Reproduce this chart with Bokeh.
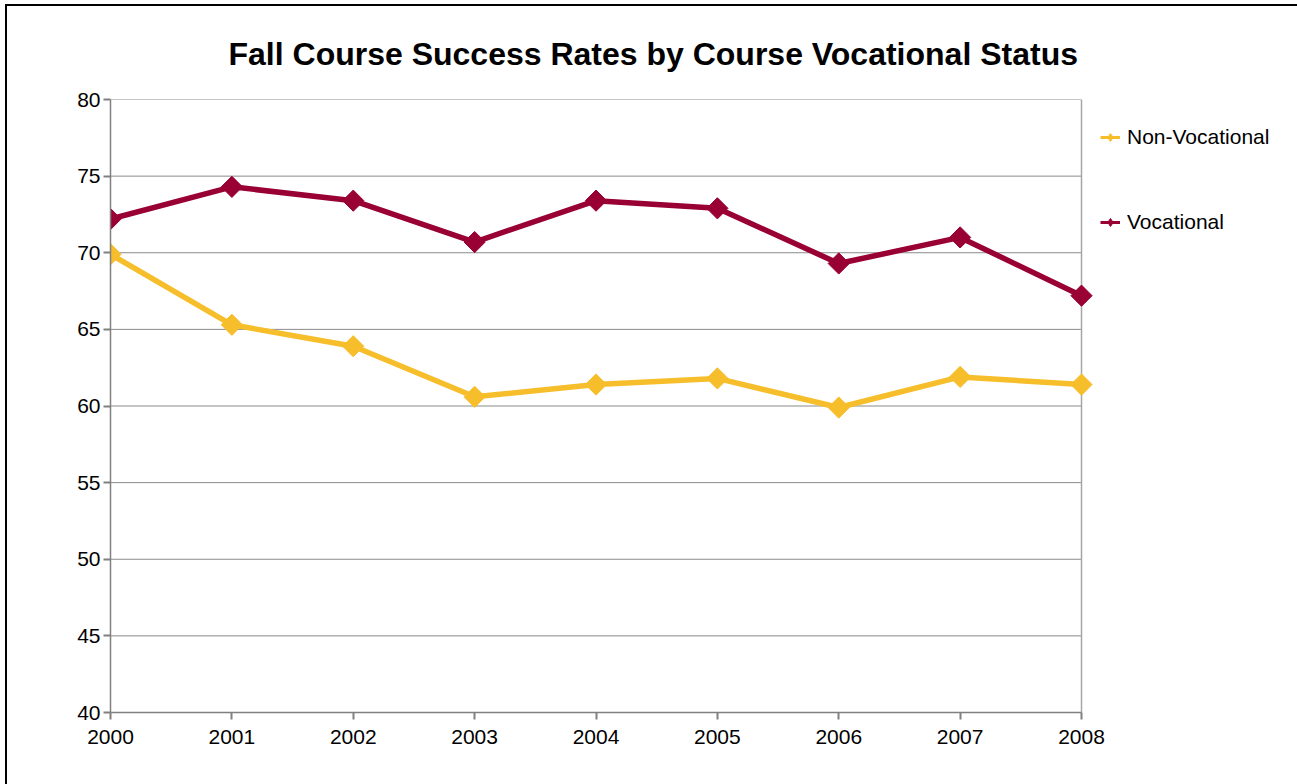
import math
from bokeh.plotting import figure
from bokeh.models import Legend, LegendItem, FixedTicker, ColumnDataSource
from bokeh.embed import file_html
from bokeh.resources import INLINE

years = [2000, 2001, 2002, 2003, 2004, 2005, 2006, 2007, 2008]
non_vocational = [69.9, 65.3, 63.9, 60.6, 61.4, 61.8, 59.9, 61.9, 61.4]
vocational = [72.2, 74.3, 73.4, 70.7, 73.4, 72.9, 69.3, 71.0, 67.2]
y_ticks = [40, 45, 50, 55, 60, 65, 70, 75, 80]

NONVOC_COLOR = "#F7BE2B"
VOC_COLOR = "#990033"
FONT = "Liberation Sans"

# plot area spans 971 px for the 8 years; extend the range over the legend area (216 px)
px_per_year = 971 / (years[-1] - years[0])
x_end = years[-1] + 216 / px_per_year

p = figure(width=1290, height=778, output_backend="svg", toolbar_location=None,
           x_range=(years[0], x_end), y_range=(y_ticks[0], y_ticks[-1]),
           min_border_left=103, min_border_right=0, min_border_top=93, min_border_bottom=72,
           title="Fall Course Success Rates by Course Vocational Status")
p.margin = (6, 0, 0, 7)
p.styles = {"outline": "2px solid black"}

p.title.text_font = FONT
p.title.text_font_size = "32px"
p.title.text_font_style = "bold"
p.title.text_color = "black"
p.title.align = "left"
p.title.offset = 118
p.title.standoff = 55

p.outline_line_color = None
p.background_fill_color = "white"
p.border_fill_color = "white"

p.xgrid.grid_line_color = None
p.ygrid.grid_line_color = None

# horizontal gridlines limited to the plot area, and its right border
p.segment(x0=[years[0]] * len(y_ticks), x1=[years[-1]] * len(y_ticks), y0=y_ticks, y1=y_ticks,
          line_color="#8a8a8a", line_width=1)
p.segment(x0=[years[-1]], x1=[years[-1]], y0=[y_ticks[0]], y1=[y_ticks[-1]],
          line_color="#a6a6a6", line_width=1.5)

for ax in (p.xaxis[0], p.yaxis[0]):
    ax.axis_line_color = "#808080"
    ax.axis_line_width = 1.5
    ax.major_tick_line_color = "#808080"
    ax.major_tick_line_width = 2
    ax.major_tick_out = 7
    ax.major_tick_in = 0
    ax.minor_tick_line_color = None
    ax.major_label_text_font = FONT
    ax.major_label_text_font_size = "21px"
    ax.major_label_text_color = "black"

p.xaxis.bounds = (years[0], years[-1])
p.xaxis.ticker = FixedTicker(ticks=years)
p.yaxis.ticker = FixedTicker(ticks=y_ticks)
p.xaxis.major_label_standoff = 10
p.yaxis.major_label_standoff = 3

p.line(years, non_vocational, line_color=NONVOC_COLOR, line_width=5.5)
p.scatter(years, non_vocational, marker="square", angle=math.pi / 4, size=15,
          fill_color=NONVOC_COLOR, line_color=NONVOC_COLOR)
p.line(years, vocational, line_color=VOC_COLOR, line_width=5.5)
p.scatter(years, vocational, marker="square", angle=math.pi / 4, size=15,
          fill_color=VOC_COLOR, line_color=VOC_COLOR)

# legend-only renderers (a single NaN row: nothing drawn in the plot)
nan_src = ColumnDataSource(data=dict(x=[float("nan")], y=[float("nan")]))
ll1 = p.line("x", "y", source=nan_src, line_color=NONVOC_COLOR, line_width=3)
lm1 = p.scatter("x", "y", source=nan_src, marker="diamond", size=11,
                fill_color=NONVOC_COLOR, line_color=NONVOC_COLOR)
ll2 = p.line("x", "y", source=nan_src, line_color=VOC_COLOR, line_width=3)
lm2 = p.scatter("x", "y", source=nan_src, marker="diamond", size=11,
                fill_color=VOC_COLOR, line_color=VOC_COLOR)

legend = Legend(items=[
    LegendItem(label="Non-Vocational", renderers=[ll1, lm1]),
    LegendItem(label="Vocational", renderers=[ll2, lm2]),
], location=(990, 471))
legend.border_line_color = None
legend.background_fill_alpha = 0
legend.margin = 0
legend.padding = 0
legend.label_height = 38
legend.glyph_height = 38
legend.glyph_width = 20
legend.spacing = 47
legend.label_standoff = 7
legend.label_text_font = FONT
legend.label_text_font_size = "21px"
legend.label_text_color = "black"
p.add_layout(legend)

open("out.html", "w").write(file_html(p, INLINE))
